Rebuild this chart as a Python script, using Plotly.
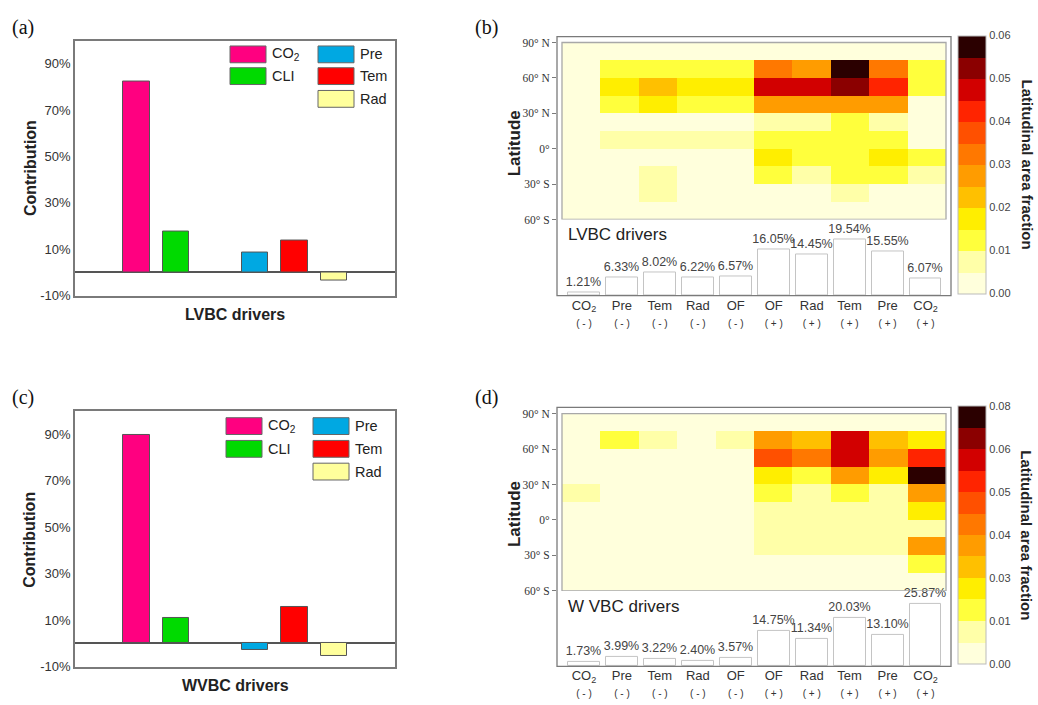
import plotly.graph_objects as go

W, H = 1038, 705


def fx(px):
    return px / W


def fy(py):
    return 1 - py / H


# ---------------- data ----------------
DRIVERS = ["CO2", "CLI", "Pre", "Tem", "Rad"]
DRIVER_NAMES = ["CO<sub>2</sub>", "CLI", "Pre", "Tem", "Rad"]
LVBC_CONTRIB = [82.5, 17.5, 8.4, 13.8, -3.3]
WVBC_CONTRIB = [89.5, 11.0, -2.7, 15.6, -5.5]
BAR_CATEGORIES = ["CO2", "CLI", " ", "Pre", "Tem", "Rad"]
CONTRIB_TICKS = [-10, 10, 30, 50, 70, 90]
CONTRIB_TICKTEXT = ["-10%", "10%", "30%", "50%", "70%", "90%"]

LAT_DRIVERS = ["CO<sub>2</sub>", "Pre", "Tem", "Rad", "OF", "OF", "Rad", "Tem", "Pre", "CO<sub>2</sub>"]
LAT_SIGNS = ["-", "-", "-", "-", "-", "+", "+", "+", "+", "+"]
LVBC_FRAC = [1.21, 6.33, 8.02, 6.22, 6.57, 16.05, 14.45, 19.54, 15.55, 6.07]
WVBC_FRAC = [1.73, 3.99, 3.22, 2.40, 3.57, 14.75, 11.34, 20.03, 13.10, 25.87]

LAT_CENTERS = [82.5, 67.5, 52.5, 37.5, 22.5, 7.5, -7.5, -22.5, -37.5, -52.5]
LAT_TICKS = [-60, -30, 0, 30, 60, 90]
LAT_TICKTEXT = ["60° S", "30° S", "0°", "30° N", "60° N", "90° N"]

# rows from 90N-75N down to 45S-60S, columns follow LAT_DRIVERS
LVBC_Z = [
    [0.001, 0.001, 0.001, 0.001, 0.001, 0.001, 0.001, 0.001, 0.001, 0.001],
    [0.001, 0.0125, 0.0125, 0.0125, 0.0125, 0.0325, 0.0275, 0.0575, 0.0325, 0.0125],
    [0.001, 0.0175, 0.0225, 0.0175, 0.0175, 0.0475, 0.0475, 0.0525, 0.0425, 0.0125],
    [0.001, 0.0125, 0.0175, 0.0125, 0.0125, 0.0275, 0.0275, 0.0275, 0.0275, 0.003],
    [0.001, 0.002, 0.002, 0.002, 0.002, 0.0075, 0.0075, 0.0125, 0.0075, 0.002],
    [0.001, 0.0075, 0.0075, 0.0075, 0.0075, 0.0125, 0.0125, 0.0125, 0.0125, 0.003],
    [0.001, 0.002, 0.002, 0.002, 0.002, 0.0175, 0.0125, 0.0125, 0.0175, 0.0125],
    [0.001, 0.002, 0.0075, 0.002, 0.002, 0.0125, 0.0075, 0.0125, 0.0125, 0.0075],
    [0.001, 0.001, 0.0075, 0.001, 0.001, 0.002, 0.002, 0.0075, 0.002, 0.002],
    [0.001, 0.001, 0.001, 0.001, 0.001, 0.001, 0.001, 0.001, 0.001, 0.001],
]
WVBC_Z = [
    [0.001, 0.001, 0.001, 0.001, 0.001, 0.001, 0.001, 0.001, 0.001, 0.001],
    [0.001, 0.0167, 0.010, 0.002, 0.010, 0.0367, 0.030, 0.0633, 0.030, 0.0233],
    [0.001, 0.002, 0.002, 0.002, 0.002, 0.050, 0.0433, 0.0633, 0.0367, 0.0567],
    [0.001, 0.002, 0.002, 0.002, 0.002, 0.0233, 0.0167, 0.0367, 0.0233, 0.0767],
    [0.010, 0.002, 0.002, 0.002, 0.002, 0.0167, 0.010, 0.0167, 0.010, 0.0367],
    [0.001, 0.002, 0.002, 0.002, 0.002, 0.010, 0.010, 0.010, 0.010, 0.0233],
    [0.001, 0.002, 0.002, 0.002, 0.002, 0.010, 0.010, 0.010, 0.010, 0.010],
    [0.001, 0.002, 0.002, 0.002, 0.002, 0.010, 0.010, 0.010, 0.010, 0.0367],
    [0.001, 0.001, 0.001, 0.001, 0.001, 0.002, 0.002, 0.002, 0.002, 0.0167],
    [0.001, 0.001, 0.001, 0.001, 0.001, 0.001, 0.001, 0.001, 0.001, 0.001],
]

CB_B_TICKVALS = [0.00, 0.01, 0.02, 0.03, 0.04, 0.05, 0.06]
CB_B_TICKTEXT = ["0.00", "0.01", "0.02", "0.03", "0.04", "0.05", "0.06"]
CB_D_TICKVALS = [0.0, 0.08 / 6, 0.16 / 6, 0.24 / 6, 0.32 / 6, 0.40 / 6, 0.08]
CB_D_TICKTEXT = ["0.00", "0.01", "0.03", "0.04", "0.05", "0.06", "0.08"]

# ---------------- styles ----------------
DRIVER_COLORS = {"CO2": "#FF0080", "CLI": "#00DA00", "Pre": "#00A8E2",
                 "Tem": "#FF0000", "Rad": "#FFFF9C"}
BAND_COLORS = ["#FFFFDC", "#FFFFA8", "#FFFF3C", "#FFEE00", "#FFC000", "#FF9C00",
               "#FF7800", "#FF5000", "#FF2400", "#D20000", "#8B0000", "#2B0000"]
SANS = "Arial, Liberation Sans, sans-serif"
SERIF = "Times New Roman, Liberation Serif, serif"
FRAME = "#7A7A7A"

colorscale = []
n = len(BAND_COLORS)
for i, c in enumerate(BAND_COLORS):
    colorscale.append([i / n, c])
    colorscale.append([(i + 1) / n, c])

fig = go.Figure()

# ---------------- panels (a) and (c): contribution bars ----------------
for vals, xa, ya in [(LVBC_CONTRIB, "x", "y"), (WVBC_CONTRIB, "x4", "y4")]:
    fig.add_trace(go.Bar(
        x=DRIVERS, y=vals, xaxis=xa, yaxis=ya, width=0.68,
        marker=dict(color=[DRIVER_COLORS[d] for d in DRIVERS],
                    line=dict(color="#555555", width=1)),
        showlegend=False, hoverinfo="x+y"))

# ---------------- panels (b) and (d): heatmaps ----------------
cols = list(range(len(LAT_DRIVERS)))
for z, xa, ya, zmax, tv, tt, cy in [
        (LVBC_Z, "x2", "y2", 0.06, CB_B_TICKVALS, CB_B_TICKTEXT, 166.5),
        (WVBC_Z, "x5", "y5", 0.08, CB_D_TICKVALS, CB_D_TICKTEXT, 541.5)]:
    fig.add_trace(go.Heatmap(
        z=z, x=cols, y=LAT_CENTERS, xaxis=xa, yaxis=ya,
        zmin=0, zmax=zmax, colorscale=colorscale,
        colorbar=dict(x=fx(958), xanchor="left", y=fy(cy), yanchor="middle",
                      xpad=0, ypad=0,
                      len=261 / H, lenmode="fraction", thickness=28,
                      thicknessmode="pixels", tickvals=tv, ticktext=tt,
                      ticks="", outlinewidth=1, outlinecolor="#BBBBBB",
                      tickfont=dict(family=SANS, size=11, color="#444444")),
        showscale=True, hoverinfo="z"))

for vals, xa, ya in [(LVBC_FRAC, "x3", "y3"), (WVBC_FRAC, "x6", "y6")]:
    fig.add_trace(go.Bar(
        x=cols, y=vals, xaxis=xa, yaxis=ya, width=0.84,
        marker=dict(color="white", line=dict(color="#C4C4C4", width=1)),
        text=[f"{v:.2f}%" for v in vals], textposition="outside",
        constraintext="none",
        textfont=dict(family=SANS, size=12.5, color="#444444"),
        cliponaxis=False, showlegend=False, hoverinfo="y"))

lat_ticktext = [f"{d}<br><span style='font-size:10px'>( {s} )</span>"
                for d, s in zip(LAT_DRIVERS, LAT_SIGNS)]

axis_a = dict(showline=True, mirror=True, linecolor=FRAME, linewidth=1.5,
              showgrid=False, zeroline=False)

layout = dict(
    width=W, height=H, margin=dict(l=0, r=0, t=0, b=0),
    paper_bgcolor="white", plot_bgcolor="white", showlegend=False,
    bargap=0,
    # (a)
    xaxis=dict(axis_a, domain=[fx(75), fx(395)], anchor="y", type="category",
               categoryorder="array", categoryarray=BAR_CATEGORIES,
               range=[-1.557, 6.544], showticklabels=False, ticks=""),
    yaxis=dict(axis_a, domain=[fy(299), fy(41)], anchor="x", range=[-10, 100],
               tickvals=CONTRIB_TICKS, ticktext=CONTRIB_TICKTEXT, ticks="",
               zeroline=True, zerolinecolor="#555555", zerolinewidth=1.5,
               tickfont=dict(family=SANS, size=13, color="#333333")),
    # (c)
    xaxis4=dict(axis_a, domain=[fx(75), fx(395)], anchor="y4", type="category",
                categoryorder="array", categoryarray=BAR_CATEGORIES,
                range=[-1.557, 6.544], showticklabels=False, ticks=""),
    yaxis4=dict(axis_a, domain=[fy(674.3), fy(415.7)], anchor="x4", range=[-10, 100],
                tickvals=CONTRIB_TICKS, ticktext=CONTRIB_TICKTEXT, ticks="",
                zeroline=True, zerolinecolor="#555555", zerolinewidth=1.5,
                tickfont=dict(family=SANS, size=13, color="#333333")),
    # (b) heatmap
    xaxis2=dict(domain=[fx(557), fx(951)], anchor="y2", range=[-0.63, 9.63],
                visible=False),
    yaxis2=dict(domain=[fy(222), fy(37)], anchor="x2", range=[-60, 95.0],
                tickvals=LAT_TICKS, ticktext=LAT_TICKTEXT, ticks="outside",
                ticklen=4, tickcolor=FRAME, showgrid=False, zeroline=False,
                showline=False,
                tickfont=dict(family=SERIF, size=11.5, color="#333333")),
    # (b) bars
    xaxis3=dict(domain=[fx(565), fx(944.5)], anchor="y3", range=[-0.5, 9.5],
                tickvals=cols, ticktext=lat_ticktext, ticks="", showgrid=False,
                zeroline=False, showline=False,
                tickfont=dict(family=SANS, size=13, color="#333333")),
    yaxis3=dict(domain=[fy(299), fy(222)], anchor="x3", range=[0, 26.55],
                visible=False),
    # (d) heatmap
    xaxis5=dict(domain=[fx(557), fx(951)], anchor="y5", range=[-0.63, 9.63],
                visible=False),
    yaxis5=dict(domain=[fy(597.7), fy(412)], anchor="x5", range=[-60, 95.3],
                tickvals=LAT_TICKS, ticktext=LAT_TICKTEXT, ticks="outside",
                ticklen=4, tickcolor=FRAME, showgrid=False, zeroline=False,
                showline=False,
                tickfont=dict(family=SERIF, size=11.5, color="#333333")),
    # (d) bars
    xaxis6=dict(domain=[fx(565), fx(944.5)], anchor="y6", range=[-0.5, 9.5],
                tickvals=cols, ticktext=lat_ticktext, ticks="", showgrid=False,
                zeroline=False, showline=False,
                tickfont=dict(family=SANS, size=13, color="#333333")),
    yaxis6=dict(domain=[fy(674), fy(597.7)], anchor="x6", range=[0, 31.5],
                visible=False),
)
fig.update_layout(**layout)

shapes = []
annotations = []

# outer frames and heatmap borders for (b) and (d)
for top, bot, xa, ya in [(37, 299, "x2", "y2"), (412, 674, "x5", "y5")]:
    shapes.append(dict(type="rect", xref="paper", yref="paper",
                       x0=fx(557), x1=fx(951), y0=fy(bot), y1=fy(top),
                       line=dict(color=FRAME, width=1.3)))
    shapes.append(dict(type="rect", xref=xa, yref=ya, x0=-0.5, x1=9.5,
                       y0=-60, y1=90, line=dict(color="#A8A8A8", width=1.3)))

# legends for (a) and (c)
legend_specs = [
    {"CO2": (230, 55), "CLI": (230, 77), "Pre": (318, 55), "Tem": (318, 77), "Rad": (318, 100)},
    {"CO2": (226, 431), "CLI": (226, 454), "Pre": (313, 431), "Tem": (313, 454), "Rad": (313, 477)},
]
for spec in legend_specs:
    for d, name in zip(DRIVERS, DRIVER_NAMES):
        bx, by = spec[d]
        shapes.append(dict(type="rect", xref="paper", yref="paper",
                           x0=fx(bx), x1=fx(bx + 36), y0=fy(by + 8.5), y1=fy(by - 8.5),
                           fillcolor=DRIVER_COLORS[d], line=dict(color="#666666", width=1)))
        annotations.append(dict(xref="paper", yref="paper", x=fx(bx + 40), y=fy(by),
                                text=name, showarrow=False, xanchor="left",
                                yanchor="middle",
                                font=dict(family=SANS, size=14.5, color="#222222")))

# titles and labels
for txt, x, y in [("(a)", 10, 28), ("(b)", 473, 28), ("(c)", 10, 402), ("(d)", 473, 402)]:
    annotations.append(dict(xref="paper", yref="paper", x=fx(x), y=fy(y), text=txt,
                            showarrow=False, xanchor="left", yanchor="middle",
                            font=dict(family=SERIF, size=20, color="#111111")))

for y in [170, 546]:
    annotations.append(dict(xref="paper", yref="paper", x=fx(30), y=fy(y),
                            text="<b>Contribution</b>", showarrow=False, textangle=-90,
                            xanchor="center", yanchor="middle",
                            font=dict(family=SANS, size=16, color="#222222")))
for txt, y in [("LVBC drivers", 318), ("WVBC drivers", 693)]:
    annotations.append(dict(xref="paper", yref="paper", x=fx(235), y=fy(y),
                            text=f"<b>{txt}</b>", showarrow=False,
                            xanchor="center", yanchor="middle",
                            font=dict(family=SANS, size=16, color="#222222")))
for y in [145, 520]:
    annotations.append(dict(xref="paper", yref="paper", x=fx(514), y=fy(y),
                            text="<b>Latitude</b>", showarrow=False, textangle=-90,
                            xanchor="center", yanchor="middle",
                            font=dict(family=SANS, size=17, color="#222222")))
for txt, y in [("LVBC drivers", 237), ("W VBC drivers", 613)]:
    annotations.append(dict(xref="paper", yref="paper", x=fx(566), y=fy(y),
                            text=txt, showarrow=False, xanchor="left",
                            yanchor="middle",
                            font=dict(family=SANS, size=17, color="#222222")))
for y in [166.5, 541.5]:
    annotations.append(dict(xref="paper", yref="paper", x=fx(1027), y=fy(y),
                            text="<b>Latitudinal area fraction</b>", showarrow=False,
                            textangle=90, xanchor="center", yanchor="middle",
                            font=dict(family=SANS, size=15, color="#222222")))

fig.update_layout(shapes=shapes, annotations=annotations)
fig.write_html("out.html")
